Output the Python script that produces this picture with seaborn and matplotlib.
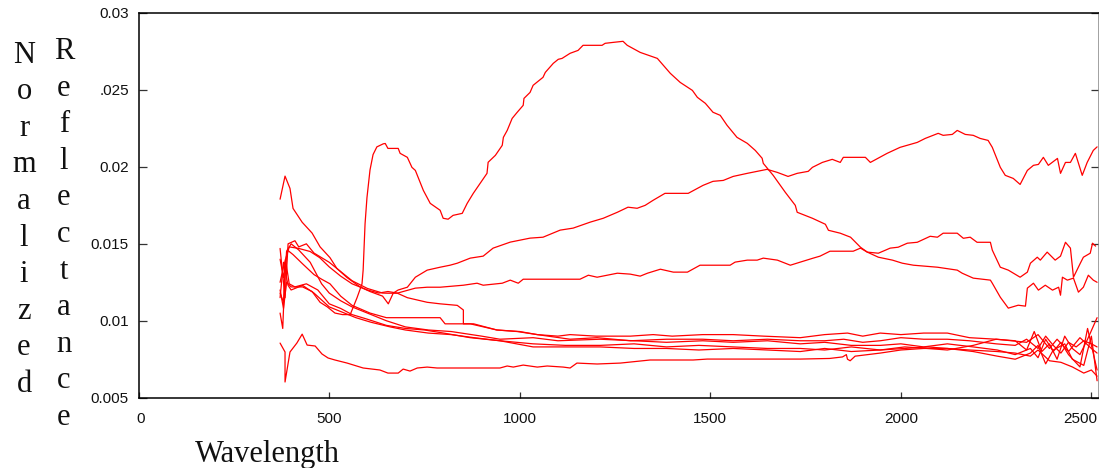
import matplotlib
matplotlib.use("Agg")
import matplotlib.pyplot as plt
import matplotlib.transforms as mtransforms
import seaborn as sns
import pandas as pd

# ---- data (wavelength in nm, normalized reflectance) ----
E_wl = [371, 384, 397, 405, 429, 455, 476, 502, 520, 547, 581, 607, 640, 655, 668, 681, 705, 726, 757, 791,
        817, 836, 870, 904, 930, 975, 1027, 1061, 1106, 1140, 1185, 1219, 1256, 1284, 1308, 1329, 1350, 1381, 1442, 1466,
        1481, 1507, 1534, 1560, 1597, 1623, 1649, 1676, 1704, 1728, 1757, 1768, 1794, 1820, 1841, 1849, 1907, 1920, 1964, 1998,
        2043, 2064, 2098, 2111, 2135, 2148, 2169, 2190, 2208, 2229, 2240, 2261, 2274, 2295, 2313, 2332, 2348, 2361, 2374, 2387,
        2411, 2419, 2432, 2445, 2458, 2476, 2489, 2505, 2515]
E_val = [0.0179, 0.0194, 0.0186, 0.0173, 0.0164, 0.0157, 0.0148, 0.0141, 0.0134, 0.0128,
         0.0122, 0.0119, 0.0116, 0.0111, 0.0118, 0.0120, 0.01218, 0.01283, 0.01329, 0.01348,
         0.01361, 0.01374, 0.01407, 0.0142, 0.01472, 0.01511, 0.01537, 0.01543, 0.01589, 0.01602,
         0.01641, 0.01666, 0.01705, 0.01738, 0.01731, 0.0175, 0.01783, 0.01828, 0.01828, 0.0186,
         0.0188, 0.01906, 0.01912, 0.01938, 0.01958, 0.01971, 0.01984, 0.01964, 0.01938, 0.01958,
         0.01971, 0.01997, 0.02029, 0.02049, 0.02029, 0.02062, 0.02062, 0.02029, 0.02088, 0.02127,
         0.02159, 0.02185, 0.02218, 0.02205, 0.02211, 0.02237, 0.02211, 0.02205, 0.02185, 0.02172,
         0.02127, 0.01997, 0.01945, 0.01925, 0.01886, 0.01977, 0.0201, 0.02016, 0.02062, 0.0201,
         0.02055, 0.01958, 0.02029, 0.02029, 0.02088, 0.01945, 0.02029, 0.02107, 0.0213]

B_wl = [371, 380, 388, 400, 430, 455, 476, 495, 515, 535, 555, 573, 586, 589, 594, 599, 607, 615, 625, 642,
        647, 654, 681, 686, 705, 717, 726, 747, 765, 791, 799, 812, 825, 849, 862, 878, 914, 917, 936, 954,
        957, 967, 980, 993, 1009, 1011, 1027, 1035, 1061, 1067, 1088, 1101, 1111, 1132, 1153, 1166, 1216, 1224, 1245, 1271,
        1282, 1316, 1361, 1395, 1421, 1453, 1466, 1487, 1507, 1526, 1544, 1570, 1597, 1618, 1636, 1639, 1665, 1697, 1723, 1728,
        1768, 1802, 1810, 1841, 1868, 1894, 1912, 1941, 1978, 2004, 2033, 2096, 2148, 2161, 2190, 2235, 2240, 2261, 2282, 2308,
        2327, 2332, 2348, 2361, 2379, 2398, 2414, 2419, 2424, 2437, 2453, 2466, 2479, 2492, 2505, 2515]
B_val = [0.0120, 0.0108, 0.0125, 0.0122, 0.0122, 0.0119, 0.0112, 0.0109, 0.0105, 0.0104,
         0.0104, 0.0115, 0.0124, 0.0133, 0.0163, 0.0180, 0.0198, 0.0208, 0.0213, 0.0215,
         0.02152, 0.0212, 0.0212, 0.02088, 0.02062, 0.01997, 0.01977, 0.01847, 0.01763, 0.01718,
         0.01666, 0.0166, 0.01685, 0.01698, 0.01763, 0.01828, 0.01958, 0.0203, 0.02075, 0.0214,
         0.02192, 0.02237, 0.02315, 0.02354, 0.024, 0.02445, 0.02484, 0.0253, 0.02582, 0.02614,
         0.02673, 0.02699, 0.02705, 0.02738, 0.02757, 0.0279, 0.0279, 0.02803, 0.02809, 0.02816,
         0.0279, 0.02744, 0.02705, 0.02608, 0.02549, 0.02497, 0.02452, 0.02413, 0.02355, 0.02335,
         0.0227, 0.02192, 0.02153, 0.02107, 0.02056, 0.02023, 0.01945, 0.01834, 0.0175, 0.01705,
         0.01666, 0.01627, 0.01588, 0.01569, 0.01543, 0.01478, 0.01446, 0.01413, 0.01394, 0.01374,
         0.01361, 0.01348, 0.01329, 0.01309, 0.01277, 0.01264, 0.01244, 0.01153, 0.01082, 0.01101,
         0.01095, 0.01212, 0.01244, 0.01199, 0.01231, 0.01199, 0.01218, 0.01166, 0.01283, 0.01264,
         0.01277, 0.01186, 0.01218, 0.01296, 0.01264, 0.0125]

F_wl = [371, 384, 392, 410, 420, 440, 460, 500, 530, 560, 600, 640, 654, 678, 726, 757, 791, 852, 888, 904,
        954, 975, 996, 1009, 1158, 1180, 1203, 1256, 1290, 1316, 1335, 1369, 1403, 1440, 1473, 1552, 1565, 1597, 1623, 1639,
        1676, 1710, 1736, 1770, 1788, 1814, 1875, 1894, 1912, 1941, 1972, 1993, 2017, 2043, 2077, 2096, 2111, 2148, 2164, 2182,
        2200, 2235, 2240, 2261, 2282, 2313, 2332, 2340, 2358, 2366, 2384, 2405, 2419, 2432, 2445, 2453, 2471, 2479, 2497, 2503,
        2511]
F_val = [0.0147, 0.0115, 0.0150, 0.0152, 0.0148, 0.0150, 0.0144, 0.0138, 0.0132, 0.0126,
         0.0121, 0.0118, 0.01179, 0.01179, 0.01212, 0.01218, 0.01218, 0.01231, 0.01244, 0.01231,
         0.01244, 0.01264, 0.01244, 0.0127, 0.0127, 0.01296, 0.01283, 0.01309, 0.01303, 0.0129,
         0.01309, 0.01335, 0.01316, 0.01316, 0.01361, 0.01361, 0.01381, 0.01394, 0.01394, 0.01407,
         0.01394, 0.01361, 0.01381, 0.01407, 0.0142, 0.01452, 0.01452, 0.01472, 0.01446, 0.01439,
         0.01472, 0.01478, 0.01504, 0.0151, 0.01549, 0.01543, 0.01569, 0.01569, 0.01536, 0.01543,
         0.0151, 0.0151, 0.01459, 0.01348, 0.01329, 0.01283, 0.01316, 0.01374, 0.01413, 0.01394,
         0.01446, 0.01394, 0.0142, 0.0151, 0.01472, 0.01283, 0.01374, 0.01413, 0.01439, 0.01504,
         0.01485]

G_wl = [371, 380, 395, 420, 450, 475, 500, 530, 560, 600, 630, 654, 678, 705, 757, 791, 836, 852, 852, 879,
        940, 993, 1046, 1132, 1203, 1290, 1385, 1480, 1560, 1650, 1736, 1800, 1850, 1900, 1946, 2000, 2060, 2122, 2180, 2250,
        2300, 2330, 2360, 2380, 2400, 2420, 2440, 2460, 2480, 2500, 2515]
G_val = [0.0125, 0.0135, 0.0148, 0.0147, 0.0145, 0.0141, 0.0135, 0.0129, 0.0124, 0.0120,
         0.0118, 0.0119, 0.0118, 0.0115, 0.0112, 0.0111, 0.0110, 0.0107, 0.0098, 0.0098,
         0.0094, 0.0093, 0.0091, 0.0088, 0.0089, 0.0087, 0.0088, 0.0088, 0.0087, 0.0088,
         0.0087, 0.0087, 0.0088, 0.0086, 0.0087, 0.0089, 0.0088, 0.0088, 0.0087, 0.0085,
         0.0084, 0.0088, 0.0082, 0.0090, 0.0084, 0.0079, 0.0086, 0.0083, 0.0087, 0.0085,
         0.0083]

H_wl = [371, 380, 390, 405, 430, 460, 480, 502, 530, 560, 607, 650, 700, 791, 804, 870, 940, 1000, 1046, 1100,
        1132, 1200, 1290, 1350, 1400, 1480, 1560, 1640, 1736, 1800, 1860, 1900, 1946, 2000, 2060, 2122, 2180, 2250, 2300, 2330,
        2350, 2370, 2390, 2410, 2430, 2450, 2470, 2490, 2515]
H_val = [0.0140, 0.0128, 0.0146, 0.0143, 0.0137, 0.0130, 0.0127, 0.0124, 0.0116, 0.0110,
         0.0105, 0.0102, 0.0102, 0.0102, 0.0098, 0.0098, 0.0094, 0.0093, 0.0091, 0.0090,
         0.0091, 0.0090, 0.0090, 0.0091, 0.0090, 0.0091, 0.0091, 0.0090, 0.0089, 0.0091,
         0.0092, 0.0090, 0.0092, 0.0091, 0.0092, 0.0092, 0.0089, 0.0088, 0.0087, 0.0081,
         0.0093, 0.0080, 0.0085, 0.0075, 0.0090, 0.0082, 0.0078, 0.0088, 0.0102]

I_wl = [371, 380, 388, 400, 420, 450, 480, 500, 530, 560, 600, 650, 700, 760, 820, 900, 948, 1035, 1100, 1211,
        1300, 1385, 1480, 1560, 1650, 1736, 1800, 1870, 1946, 2000, 2060, 2122, 2190, 2253, 2300, 2340, 2360, 2380, 2400, 2420,
        2440, 2470, 2490, 2515]
I_val = [0.0118, 0.0112, 0.0145, 0.0150, 0.0146, 0.0138, 0.0124, 0.0118, 0.0113, 0.0109,
         0.0105, 0.0100, 0.0096, 0.0094, 0.0093, 0.0090, 0.0088, 0.0089, 0.0087, 0.0088,
         0.0087, 0.0086, 0.0087, 0.0086, 0.0087, 0.0085, 0.0086, 0.0084, 0.0084, 0.0085,
         0.0083, 0.0085, 0.0083, 0.0081, 0.0078, 0.0082, 0.0076, 0.0088, 0.0080, 0.0086,
         0.0078, 0.0070, 0.0095, 0.0068]

J_wl = [371, 378, 385, 395, 410, 440, 470, 500, 530, 560, 600, 650, 700, 750, 800, 870, 948, 1035, 1120, 1211,
        1300, 1385, 1470, 1560, 1650, 1736, 1800, 1870, 1946, 2010, 2070, 2122, 2190, 2253, 2300, 2340, 2360, 2380, 2400, 2430,
        2450, 2480, 2500, 2515]
J_val = [0.0105, 0.0095, 0.0140, 0.0124, 0.0122, 0.0124, 0.0120, 0.0111, 0.0108, 0.0104,
         0.0101, 0.0097, 0.0095, 0.0094, 0.0092, 0.0089, 0.0087, 0.0085, 0.0084, 0.0084,
         0.0085, 0.0083, 0.0084, 0.0083, 0.0082, 0.0082, 0.0081, 0.0083, 0.0081, 0.0082,
         0.0083, 0.0082, 0.0080, 0.0077, 0.0075, 0.0079, 0.0084, 0.0072, 0.0081, 0.0085,
         0.0075, 0.0071, 0.0090, 0.0061]

K_wl = [371, 380, 392, 400, 430, 460, 500, 530, 570, 610, 660, 700, 760, 820, 880, 948, 1035, 1110, 1211, 1300,
        1385, 1470, 1560, 1650, 1736, 1800, 1870, 1946, 2010, 2070, 2122, 2190, 2250, 2290, 2330, 2360, 2390, 2410, 2440, 2470,
        2500, 2515]
K_val = [0.0115, 0.0138, 0.0123, 0.0120, 0.0123, 0.0118, 0.0109, 0.0106, 0.0102, 0.0099,
         0.0096, 0.0094, 0.0092, 0.0091, 0.0089, 0.0087, 0.0083, 0.0083, 0.0083, 0.0082,
         0.0082, 0.0081, 0.0082, 0.0081, 0.0080, 0.0082, 0.0080, 0.0081, 0.0083, 0.0082,
         0.0081, 0.0084, 0.0088, 0.0087, 0.0086, 0.0091, 0.0082, 0.0088, 0.0080, 0.0089,
         0.0082, 0.0079]

D_wl = [371, 384, 384, 397, 415, 429, 442, 463, 481, 497, 515, 547, 589, 633, 654, 681, 694, 712, 731, 757,
        783, 948, 967, 983, 1009, 1046, 1072, 1114, 1132, 1150, 1203, 1264, 1342, 1455, 1492, 1736, 1813, 1847, 1857, 1860,
        1867, 1880, 1946, 2000, 2060, 2122, 2180, 2253, 2300, 2340, 2360, 2390, 2420, 2450, 2480, 2500, 2515]
D_val = [0.00855, 0.00797, 0.00602, 0.00797, 0.00855, 0.00913, 0.00842, 0.00836, 0.00784, 0.00758,
         0.00745, 0.00725, 0.00693, 0.0068, 0.0066, 0.0066, 0.00686, 0.00673, 0.00693, 0.00699,
         0.00693, 0.00693, 0.00706, 0.00699, 0.00712, 0.00699, 0.00706, 0.00699, 0.00693, 0.00725,
         0.00719, 0.00725, 0.00745, 0.00745, 0.00751, 0.00751, 0.00755, 0.00765, 0.0078, 0.0075,
         0.0074, 0.0077, 0.0079, 0.0081, 0.0082, 0.0082, 0.0081, 0.0080, 0.0079, 0.0077,
         0.0081, 0.0074, 0.0073, 0.0070, 0.0066, 0.0068, 0.0064]

series = {"E": (E_wl, E_val), "B": (B_wl, B_val), "F": (F_wl, F_val), "G": (G_wl, G_val),
          "H": (H_wl, H_val), "I": (I_wl, I_val), "J": (J_wl, J_val), "K": (K_wl, K_val),
          "D": (D_wl, D_val)}

x_ticks = [0, 500, 1000, 1500, 2000, 2500]
y_ticks = [0.005, 0.01, 0.015, 0.02, 0.025, 0.03]
y_tick_labels = ["0.005", "0.01", "0.015", "0.02", ".025", "0.03"]

frames = []
for name, (wl, val) in series.items():
    frames.append(pd.DataFrame({"spectrum": name, "wavelength": wl, "reflectance": val}))
df = pd.concat(frames, ignore_index=True)

# ---- figure ----
sns.set_theme(style="ticks")
plt.rcParams["font.family"] = ["Liberation Sans", "DejaVu Sans"]

fig = plt.figure(figsize=(10.99, 4.68), dpi=100)
ax = fig.add_axes([138.7 / 1099, 1 - 397.7 / 468, 1 - 138.7 / 1099, (397.7 - 13) / 468])

sns.lineplot(data=df, x="wavelength", y="reflectance", units="spectrum", estimator=None,
             sort=False, color="#ff0000", linewidth=0.9, ax=ax)

ax.set_xlim(0, 2520)
ax.set_ylim(0.005, 0.03)
ax.set_xticks(x_ticks)
ax.set_xticklabels([str(t) for t in x_ticks])
ax.set_yticks(y_ticks)
ax.set_yticklabels(y_tick_labels)
ax.set_xlabel("")
ax.set_ylabel("")

for s in ax.spines.values():
    s.set_color("black")
    s.set_linewidth(1.1)
ax.spines["right"].set_color("#888888")

ax.tick_params(axis="y", which="both", direction="in", length=6, width=0.9, color="#333333",
               left=True, right=True, labelsize=11, pad=7, labelcolor="#111111")
ax.tick_params(axis="x", which="both", direction="in", length=4.5, width=0.9, color="#333333",
               bottom=True, top=False, labelsize=11, pad=10, labelcolor="#111111")

# first and last x labels sit slightly inward, as in the reference
xl = ax.get_xticklabels()
xl[0].set_transform(xl[0].get_transform() + mtransforms.ScaledTranslation(2 / 100, 0, fig.dpi_scale_trans))
xl[-1].set_transform(xl[-1].get_transform() + mtransforms.ScaledTranslation(-11 / 100, 0, fig.dpi_scale_trans))

serif = ["Liberation Serif", "DejaVu Serif"]
# va="baseline" on multi-line text anchors the last line's baseline
fig.text(24 / 1099, 1 - 392 / 468, "\n".join("Normalized"), ha="center", va="baseline",
         multialignment="center", family=serif, fontsize=22, linespacing=1.345, color="#111111")
fig.text(64 / 1099, 1 - 425 / 468, "\n".join("Reflectance"), ha="center", va="baseline",
         multialignment="center", family=serif, fontsize=22, linespacing=1.345, color="#111111")
fig.text(195 / 1099, 1 - 461.7 / 468, "Wavelength", ha="left", va="baseline",
         family=serif, fontsize=22, color="#111111")

fig.savefig("out.png", dpi=100)
